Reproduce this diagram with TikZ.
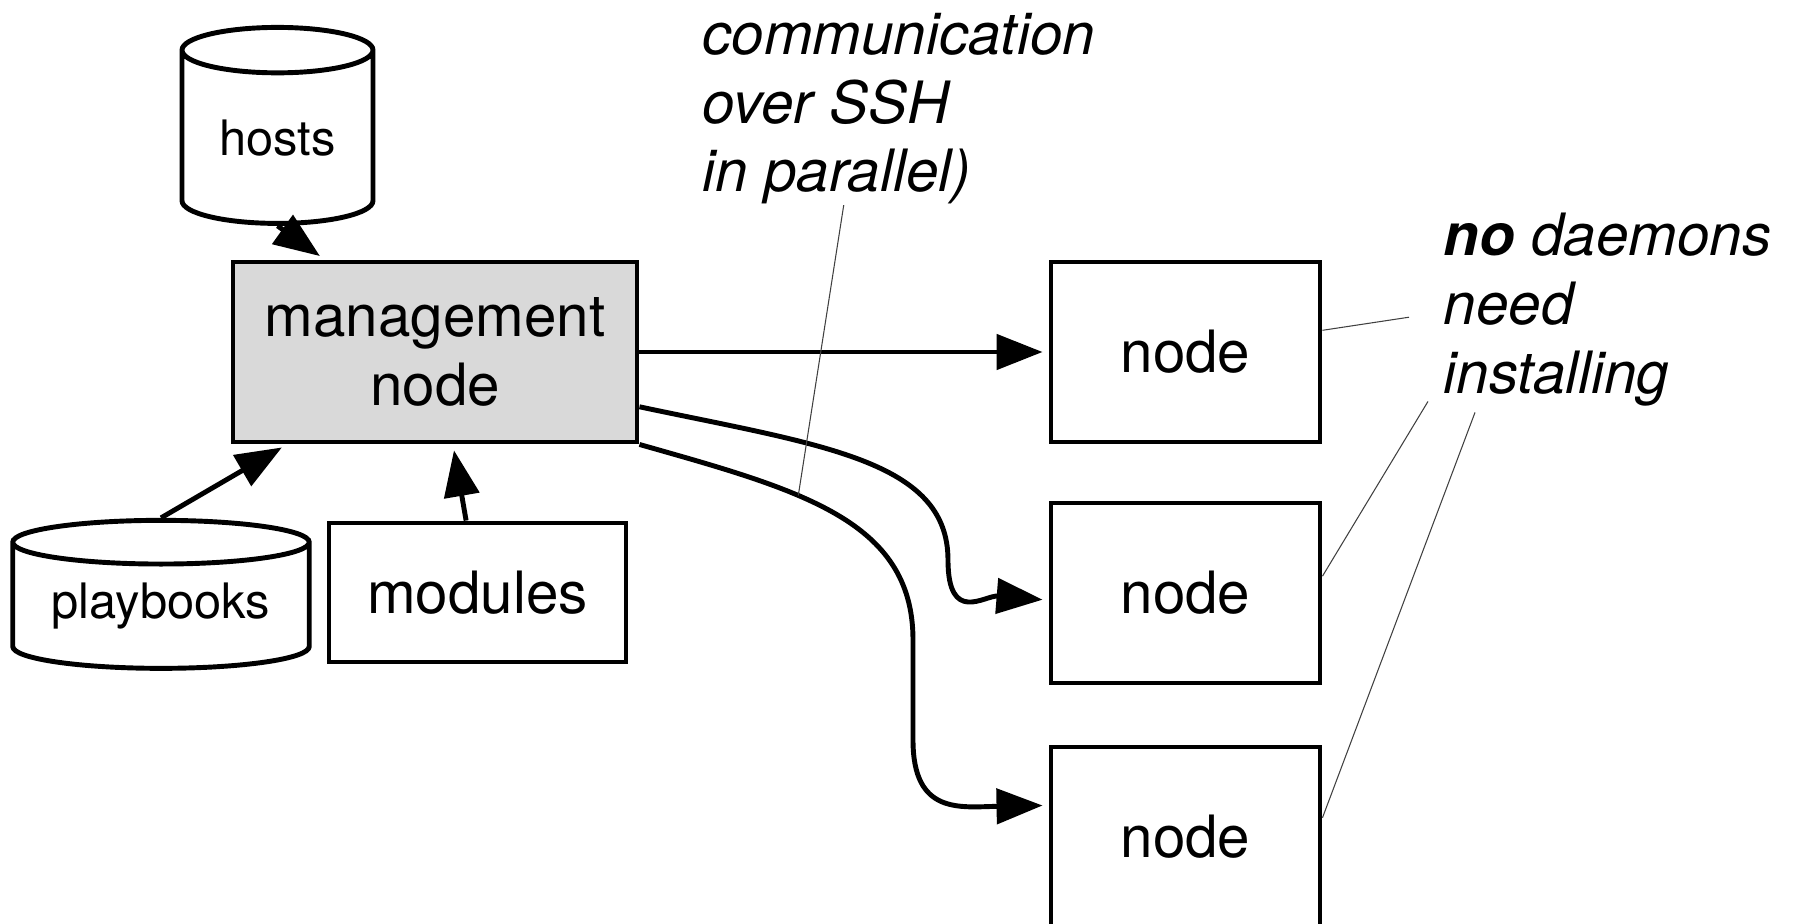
\documentclass[tikz,border=0pt]{standalone}
\usepackage{fontspec}
\setmainfont{TeX Gyre Heros}
\usetikzlibrary{shapes.geometric,arrows.meta,calc}
\definecolor{mgmtgray}{RGB}{217,217,217}

\tikzset{
  box/.style={draw, line width=1.4pt, inner sep=0pt, font=\fontsize{16.6}{19.6}\selectfont},
  store/.style={draw, cylinder, shape border rotate=90, line width=1.4pt, inner sep=0pt,
    font=\fontsize{13.9}{16}\selectfont},
  edge/.style={line width=1.4pt, -{Triangle[length=0.46cm,width=0.35cm]}, shorten >=0.06cm},
  note/.style={inner sep=0pt, align=left, font=\fontsize{16.6}{19.6}\selectfont\itshape},
  leader/.style={line width=0.3pt, black!75},
}

\begin{document}
\begin{tikzpicture}
  \useasboundingbox (0,0) rectangle (17.98,-9.24);
  % control side
  \node[box, fill=mgmtgray, minimum width=4.04cm, minimum height=1.80cm, align=center] (mgmt) at (4.35,-3.52) {management\\node};
  \node[store, minimum width=1.91cm, minimum height=1.96cm, aspect=0.39] (hosts) at (2.775,-1.38) {hosts};
  \node[store, minimum width=2.965cm, minimum height=1.48cm, aspect=0.2] (playbooks) at (1.61,-6.065) {playbooks};
  \node[box, minimum width=2.97cm, minimum height=1.39cm] (modules) at (4.775,-5.925) {modules};
  % managed side
  \node[box, minimum width=2.69cm, minimum height=1.80cm] (node1) at (11.855,-3.52) {node};
  \node[box, minimum width=2.69cm, minimum height=1.80cm] (node2) at (11.855,-5.93) {node};
  \node[box, minimum width=2.69cm, minimum height=1.80cm] (node3) at (11.855,-8.37) {node};
  % notes
  \node[note, anchor=base west] (comm) at (7.02,-1.92) {communication\\over SSH\\in parallel)};
  \node[note, anchor=base west] (daemons) at (14.43,-3.93) {\textbf{no} daemons\\need\\installing};

  \draw[edge] (hosts.south) -- (mgmt.140);
  \draw[edge] (playbooks.north) -- (mgmt.212);
  \draw[edge] (modules.99) -- (mgmt.281);
  \draw[edge] (mgmt) -- (node1);
  \draw[edge] (mgmt.-15) .. controls (8.20,-4.45) and (9.48,-4.60) .. (9.48,-5.60)
    .. controls (9.48,-6.25) and (9.85,-5.95) .. (node2.183);
  \draw[edge] (mgmt.south east) .. controls (8.00,-4.90) and (9.13,-5.20) .. (9.13,-6.40) coordinate[pos=0.38] (sshpt)
    -- (9.13,-7.40) .. controls (9.13,-8.15) and (9.60,-8.07) .. (node3.167);

  \draw[leader] ($(comm.south west)!0.36!(comm.south east)$) -- (sshpt);
  \draw[leader] (node1.9) -- ($(daemons.west)+(-0.34,-0.08)$);
  \draw[leader] (node2.7) -- ($(daemons.south west)+(-0.15,0.05)$);
  \draw[leader] (node3.8) -- ($(daemons.south west)+(0.32,-0.06)$);
\end{tikzpicture}
\end{document}
